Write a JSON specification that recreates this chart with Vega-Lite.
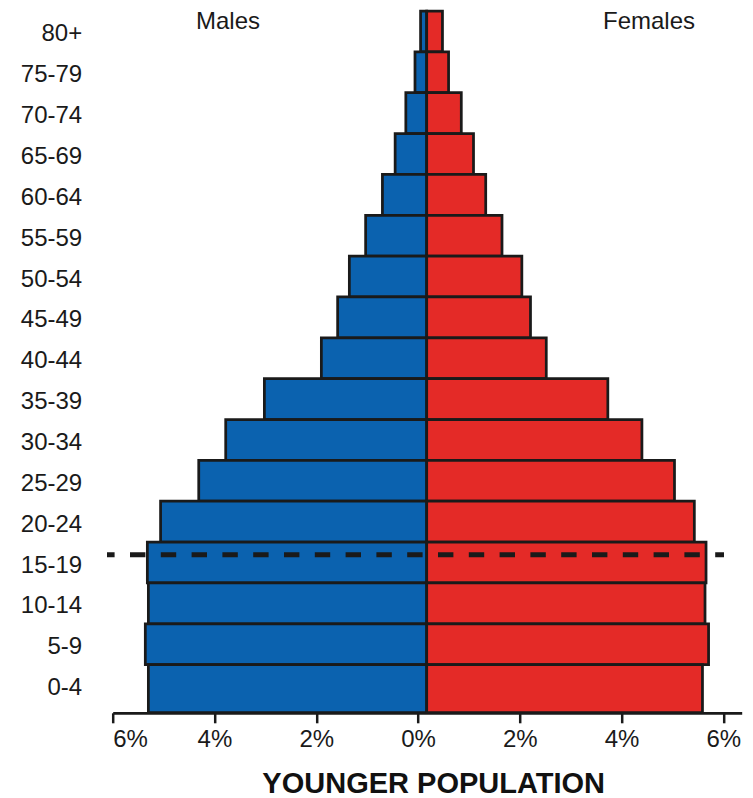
{
  "$schema": "https://vega.github.io/schema/vega-lite/v6.json",
  "width": 629,
  "height": 694.5,
  "autosize": {"type": "none"},
  "padding": {"left": 112.7, "top": 11, "right": 11.3, "bottom": 92.5},
  "config": {"view": {"stroke": null}, "font": "Liberation Sans"},
  "datasets": {
    "pop": [
      {"age": "80+", "sex": "Males", "pct": -0.12}, {"age": "80+", "sex": "Females", "pct": 0.31},
      {"age": "75-79", "sex": "Males", "pct": -0.23}, {"age": "75-79", "sex": "Females", "pct": 0.43},
      {"age": "70-74", "sex": "Males", "pct": -0.41}, {"age": "70-74", "sex": "Females", "pct": 0.68},
      {"age": "65-69", "sex": "Males", "pct": -0.62}, {"age": "65-69", "sex": "Females", "pct": 0.92},
      {"age": "60-64", "sex": "Males", "pct": -0.87}, {"age": "60-64", "sex": "Females", "pct": 1.16},
      {"age": "55-59", "sex": "Males", "pct": -1.2}, {"age": "55-59", "sex": "Females", "pct": 1.48},
      {"age": "50-54", "sex": "Males", "pct": -1.52}, {"age": "50-54", "sex": "Females", "pct": 1.87},
      {"age": "45-49", "sex": "Males", "pct": -1.75}, {"age": "45-49", "sex": "Females", "pct": 2.04},
      {"age": "40-44", "sex": "Males", "pct": -2.07}, {"age": "40-44", "sex": "Females", "pct": 2.35},
      {"age": "35-39", "sex": "Males", "pct": -3.19}, {"age": "35-39", "sex": "Females", "pct": 3.56},
      {"age": "30-34", "sex": "Males", "pct": -3.95}, {"age": "30-34", "sex": "Females", "pct": 4.23},
      {"age": "25-29", "sex": "Males", "pct": -4.48}, {"age": "25-29", "sex": "Females", "pct": 4.87},
      {"age": "20-24", "sex": "Males", "pct": -5.23}, {"age": "20-24", "sex": "Females", "pct": 5.26},
      {"age": "15-19", "sex": "Males", "pct": -5.49}, {"age": "15-19", "sex": "Females", "pct": 5.49},
      {"age": "10-14", "sex": "Males", "pct": -5.47}, {"age": "10-14", "sex": "Females", "pct": 5.47},
      {"age": "5-9", "sex": "Males", "pct": -5.53}, {"age": "5-9", "sex": "Females", "pct": 5.54},
      {"age": "0-4", "sex": "Males", "pct": -5.47}, {"age": "0-4", "sex": "Females", "pct": 5.42}
    ]
  },
  "layer": [
    {
      "data": {"name": "pop"},
      "transform": [{"filter": "datum.age != '0-4'"}],
      "mark": {"type": "bar", "stroke": "#1a1a1a", "strokeWidth": 2.75},
      "encoding": {
        "y": {
          "field": "age", "type": "ordinal", "title": null,
          "scale": {"domain": ["80+", "75-79", "70-74", "65-69", "60-64", "55-59", "50-54", "45-49", "40-44", "35-39", "30-34", "25-29", "20-24", "15-19", "10-14", "5-9", "0-4"], "paddingInner": 0, "paddingOuter": 0},
          "axis": {"domain": false, "ticks": false, "labelPadding": 31, "labelFontSize": 24, "labelColor": "#1a1a1a", "labelOffset": 3, "grid": false}
        },
        "x": {"field": "pct", "type": "quantitative", "scale": {"domain": [-6.171, 6.191], "nice": false, "zero": false}, "axis": null},
        "color": {"field": "sex", "type": "nominal", "scale": {"domain": ["Males", "Females"], "range": ["#0b62af", "#e42a27"]}, "legend": null}
      }
    },
    {
      "data": {"name": "pop"},
      "transform": [{"filter": "datum.age == '0-4'"}],
      "mark": {"type": "bar", "stroke": "#1a1a1a", "strokeWidth": 2.75, "height": {"band": 1.175}, "yOffset": 3.6},
      "encoding": {
        "y": {
          "field": "age", "type": "ordinal", "title": null,
          "scale": {"domain": ["80+", "75-79", "70-74", "65-69", "60-64", "55-59", "50-54", "45-49", "40-44", "35-39", "30-34", "25-29", "20-24", "15-19", "10-14", "5-9", "0-4"], "paddingInner": 0, "paddingOuter": 0}
        },
        "x": {"field": "pct", "type": "quantitative", "scale": {"domain": [-6.171, 6.191], "nice": false, "zero": false}, "axis": null},
        "color": {"field": "sex", "type": "nominal", "scale": {"domain": ["Males", "Females"], "range": ["#0b62af", "#e42a27"]}, "legend": null}
      }
    },
    {
      "data": {"values": [{"age": "15-19", "from": -6.112, "to": 6.014}]},
      "mark": {"type": "rule", "stroke": "#1a1a1a", "strokeWidth": 5, "strokeDash": [15.4, 15.4], "strokeDashOffset": 7.8},
      "encoding": {
        "y": {"field": "age", "type": "ordinal", "bandPosition": 0.31},
        "x": {
          "field": "from", "type": "quantitative",
          "scale": {"domain": [-6, 6.362], "nice": false, "zero": false},
          "axis": {
            "values": [-6, -4, -2, 0, 2, 4, 6],
            "labelExpr": "abs(datum.value) + '%'",
            "labelFlush": true, "labelOverlap": false,
            "labelFontSize": 24, "labelColor": "#1a1a1a",
            "labelBaseline": "alphabetic", "labelPadding": 23.4,
            "tickSize": 10, "tickWidth": 2.5, "tickColor": "#1a1a1a",
            "domainColor": "#1a1a1a", "domainWidth": 2.75,
            "grid": false, "offset": 7.3,
            "title": "YOUNGER POPULATION",
            "titleFontSize": 29, "titleFontWeight": "bold", "titleColor": "#111111",
            "titleX": 320.5, "titleY": 80, "titleBaseline": "alphabetic"
          }
        },
        "x2": {"field": "to"}
      }
    },
    {
      "data": {"values": [{"age": "80+", "label": "Males", "pos": -3.734}, {"age": "80+", "label": "Females", "pos": 4.54}]},
      "mark": {"type": "text", "fontSize": 24, "color": "#1a1a1a", "baseline": "alphabetic", "align": "center"},
      "encoding": {
        "y": {"field": "age", "type": "ordinal", "bandPosition": 0.43},
        "x": {"field": "pos", "type": "quantitative", "scale": {"domain": [-6, 6.362], "nice": false, "zero": false}, "axis": null},
        "text": {"field": "label"}
      }
    }
  ],
  "resolve": {"scale": {"x": "independent"}}
}
